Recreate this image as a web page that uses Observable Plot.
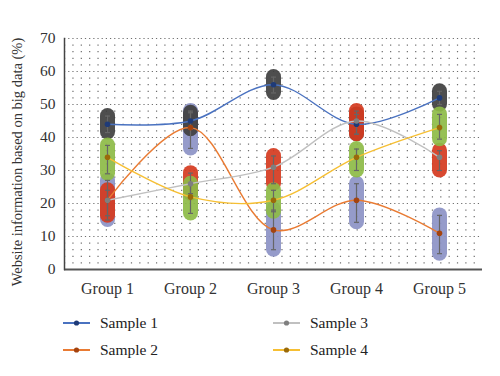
<!DOCTYPE html>
<html>
<head>
<meta charset="utf-8">
<script src="https://cdn.jsdelivr.net/npm/d3@7"></script>
<script src="https://cdn.jsdelivr.net/npm/@observablehq/plot@0.6"></script>
<style>
  body { margin: 0; background: #fff; font-family: "Liberation Serif", "DejaVu Serif", serif; }
  #wrap { position: relative; width: 500px; height: 376px; overflow: hidden; }
  #legend { position: absolute; left: 0; top: 0; width: 500px; height: 376px; pointer-events: none; }
  .item { position: absolute; display: flex; align-items: center; font-size: 15.5px; color: #222; }
  .item svg { margin-right: 10px; }
  g[aria-label="band"] { filter: blur(1.9px); }
</style>
</head>
<body>
<div id="wrap"><div id="chart"></div><div id="legend"></div></div>
<script>
const groups = ["Group 1", "Group 2", "Group 3", "Group 4", "Group 5"];
const samples = ["Sample 1", "Sample 2", "Sample 3", "Sample 4"];

const sample1 = [44, 45, 56, 44, 52];
const sample2 = [21, 43, 12, 21, 11];
const sample3 = [21, 26, 31, 45, 34];
const sample4 = [34, 22, 21, 34, 43];

const sample1Low  = [41.5, 42.5, 53.5, 41, 50];
const sample1High = [46.5, 47.5, 58.3, 47, 54];
const sample2Low  = [15, 36.7, 6, 14.3, 4.8];
const sample2High = [27, 48, 18, 26, 16.4];
const sample3Low  = [16.3, 23, 26, 41, 30];
const sample3High = [24, 29.2, 34.4, 48, 36];
const sample4Low  = [29, 17, 17.5, 30, 39.5];
const sample4High = [37.6, 26, 24, 36.5, 47];

const yTicks = [0, 10, 20, 30, 40, 50, 60, 70];
const minorRows = [2,4,6,8,12,14,16,18,22,24,26,28,32,34,36,38,42,44,46,48,52,54,56,58,62,64,66,68];
const majorRows = [10, 20, 30, 40, 50, 60, 70];

const lineColors = ["#4a72c0", "#e97b33", "#c0c0c0", "#f6bf33"];
const dotColors  = ["#1f3b78", "#a4430f", "#7f7f7f", "#9a6a0a"];
const bandColors = ["#3f3f3f", "#8c92c6", "#d53a1e", "#8dbb46"];
const yTitle = "Website information based on big data (%)";

const values = [sample1, sample2, sample3, sample4];
const lows = [sample1Low, sample2Low, sample3Low, sample4Low];
const highs = [sample1High, sample2High, sample3High, sample4High];

const rows = [];
samples.forEach((s, si) => groups.forEach((g, gi) => rows.push({
  sample: s, si, group: g, value: values[si][gi], lo: lows[si][gi], hi: highs[si][gi]
})));
// band drawing order: Sample 2, Sample 1, Sample 3, Sample 4
const bandOrder = [1, 0, 2, 3];
const bandRows = bandOrder.flatMap(si => rows.filter(r => r.si === si));

const capSymbol = {
  draw(context, size) {
    const r = Math.sqrt(size / Math.PI);
    context.moveTo(-r, 0);
    context.lineTo(r, 0);
  }
};

const chart = Plot.plot({
  width: 500,
  height: 300,
  marginTop: 38,
  marginBottom: 31,
  marginLeft: 64,
  marginRight: 18,
  style: { fontFamily: "'Liberation Serif', 'DejaVu Serif', serif", background: "transparent", overflow: "visible" },
  x: { type: "point", domain: groups, padding: 0.5 },
  y: { domain: [0, 70] },
  color: { type: "ordinal", domain: samples, range: lineColors },
  marks: [
    Plot.ruleY(minorRows, { stroke: "#555", strokeWidth: 1.2, strokeDasharray: "1.2,7.16", strokeOpacity: 0.85 }),
    Plot.ruleY(majorRows, { stroke: "#555", strokeWidth: 1.2, strokeDasharray: "1.2,2.98", strokeOpacity: 0.85 }),
    Plot.ruleX(bandRows, {
      x: "group", y1: "lo", y2: "hi",
      stroke: d => bandColors[d.si], strokeWidth: 15, strokeLinecap: "round",
      strokeOpacity: 0.92, ariaLabel: "band"
    }),
    Plot.ruleX(rows, { x: "group", y1: "lo", y2: "hi", stroke: "#666", strokeWidth: 1.2 }),
    Plot.dot(rows, { x: "group", y: "lo", symbol: capSymbol, r: 2.5, stroke: "#666", fill: "none", strokeWidth: 1.2 }),
    Plot.dot(rows, { x: "group", y: "hi", symbol: capSymbol, r: 2.5, stroke: "#666", fill: "none", strokeWidth: 1.2 }),
    Plot.line(rows, { x: "group", y: "value", z: "sample", stroke: "sample", curve: "catmull-rom", strokeWidth: 1.4 }),
    Plot.dot(rows, { x: "group", y: "value", fill: d => dotColors[d.si], r: 2.8 }),
    Plot.ruleY([0], { stroke: "#555", strokeWidth: 2 }),
    Plot.frame({ anchor: "left", stroke: "#444", strokeWidth: 1.5 }),
    Plot.axisY(yTicks, { tickSize: 0, tickPadding: 9, fontSize: 15.5, label: null, fill: "#333" }),
    Plot.axisX({ tickSize: 0, tickPadding: 13, fontSize: 16, label: null, fill: "#333" }),
    Plot.text([yTitle], { frameAnchor: "left", textAnchor: "middle", rotate: -90, dx: -47, dy: 8, fontSize: 14.5, fill: "#333" })
  ]
});
document.getElementById("chart").appendChild(chart);

// legend
const legendPos = [
  { left: 63, top: 314 }, { left: 63, top: 341 },
  { left: 273, top: 314 }, { left: 273, top: 341 }
];
const legend = document.getElementById("legend");
samples.forEach((s, i) => {
  const div = document.createElement("div");
  div.className = "item";
  div.style.left = legendPos[i].left + "px";
  div.style.top = legendPos[i].top + "px";
  div.innerHTML = `<svg width="27" height="18"><line x1="0" x2="27" y1="9" y2="9" stroke="${lineColors[i]}" stroke-width="2"/><circle cx="13.5" cy="9" r="2.6" fill="${dotColors[i]}"/></svg><span>${s}</span>`;
  legend.appendChild(div);
});
</script>
</body>
</html>
